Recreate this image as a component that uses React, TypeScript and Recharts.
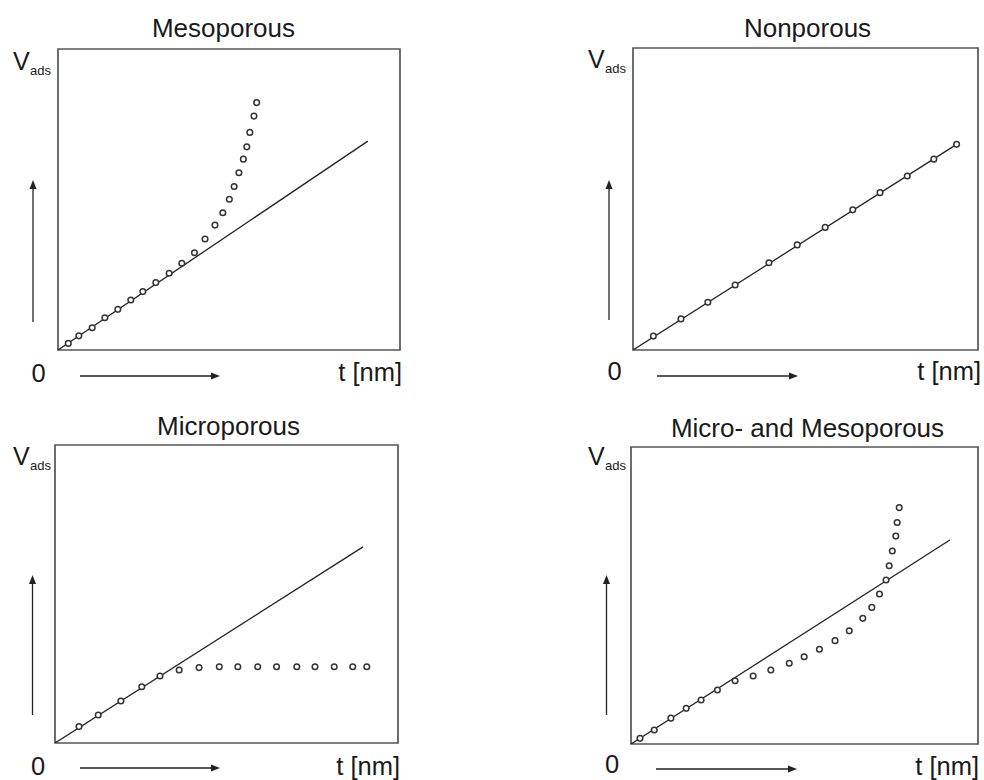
import React from "react";
import { ComposedChart, Line, Scatter, XAxis, YAxis, ReferenceArea } from "recharts";

// ---- data (normalised units 0..100 on both axes) ----
const mesoLine = [{ x: 0, y: 0 }, { x: 90.6, y: 69.4 }];
const mesoX = [3.0, 6.1, 10.0, 13.7, 17.5, 21.3, 24.8, 28.6, 32.5, 36.2, 39.9, 43.0, 45.9, 48.2, 50.1, 51.5, 52.9, 54.2, 55.2, 56.1, 57.3, 58.1];
const mesoY = [2.2, 4.7, 7.4, 10.7, 13.5, 16.6, 19.4, 22.4, 25.5, 28.8, 32.3, 36.9, 41.5, 45.6, 50.1, 54.3, 58.9, 63.4, 67.5, 72.3, 77.7, 82.2];

const nonLine = [{ x: 0, y: 0 }, { x: 93.8, y: 68.1 }];
const nonX = [5.9, 13.9, 21.7, 29.6, 39.4, 47.6, 55.7, 63.7, 71.6, 79.5, 87.2, 93.8];
const nonY = [4.6, 10.3, 15.8, 21.5, 28.9, 34.8, 40.6, 46.4, 52.1, 57.6, 63.2, 68.1];

const microLine = [{ x: 0, y: 0 }, { x: 89.8, y: 65.8 }];
const microX = [7.0, 12.6, 19.2, 25.3, 30.6, 36.2, 42.0, 47.9, 53.3, 59.1, 64.6, 70.5, 75.8, 81.4, 86.8, 90.9];
const microY = [5.5, 9.4, 14.1, 18.9, 22.5, 24.5, 25.3, 25.6, 25.6, 25.6, 25.6, 25.6, 25.6, 25.6, 25.6, 25.6];

const bothLine = [{ x: 0, y: 0 }, { x: 91.9, y: 68.7 }];
const bothX = [2.6, 6.7, 11.5, 15.9, 20.2, 24.9, 30.0, 35.2, 40.3, 45.6, 49.9, 54.3, 58.8, 62.9, 66.8, 69.4, 71.6, 73.5, 74.4, 75.3, 76.3, 76.7, 77.3];
const bothY = [1.9, 4.7, 8.7, 12.0, 14.8, 18.2, 21.3, 22.9, 24.9, 27.2, 29.4, 31.9, 34.8, 38.1, 42.3, 46.0, 50.5, 55.2, 60.0, 65.0, 70.0, 74.6, 79.6];

const titles = ["Mesoporous", "Nonporous", "Microporous", "Micro- and Mesoporous"];
const yLabel = "V";
const ySub = "ads";
const xLabel = "t [nm]";
const originLabel = "0";

const zip = (xs: number[], ys: number[]) => xs.map((x, i) => ({ x, y: ys[i] }));

type PanelCfg = {
  box: { left: number; top: number; width: number; height: number };
  title: string;
  titleX: number; titleY: number;
  vX: number; vY: number;
  arrowV: { x: number; y1: number; y2: number };
  zeroX: number; zeroY: number;
  arrowH: { x1: number; x2: number; y: number };
  tRight: number; tY: number;
  line: { x: number; y: number }[];
  pts: { x: number; y: number }[];
};

const panels: PanelCfg[] = [
  {
    box: { left: 58, top: 49, width: 342, height: 301 },
    title: titles[0], titleX: 223.5, titleY: 37,
    vX: 13, vY: 70,
    arrowV: { x: 33, y1: 322, y2: 180 },
    zeroX: 38.5, zeroY: 382,
    arrowH: { x1: 80, x2: 220, y: 376 },
    tRight: 402, tY: 381,
    line: mesoLine, pts: zip(mesoX, mesoY),
  },
  {
    box: { left: 633, top: 48, width: 345, height: 302 },
    title: titles[1], titleX: 807.5, titleY: 37,
    vX: 588, vY: 68,
    arrowV: { x: 609, y1: 320, y2: 180 },
    zeroX: 614.5, zeroY: 380,
    arrowH: { x1: 657, x2: 798, y: 376 },
    tRight: 981, tY: 380,
    line: nonLine, pts: zip(nonX, nonY),
  },
  {
    box: { left: 55, top: 445, width: 343, height: 298 },
    title: titles[2], titleX: 228.5, titleY: 435,
    vX: 13, vY: 465,
    arrowV: { x: 32.5, y1: 715, y2: 575 },
    zeroX: 38, zeroY: 775,
    arrowH: { x1: 80, x2: 220, y: 768 },
    tRight: 400, tY: 775,
    line: microLine, pts: zip(microX, microY),
  },
  {
    box: { left: 631, top: 447, width: 347, height: 297 },
    title: titles[3], titleX: 807.5, titleY: 437,
    vX: 588, vY: 465,
    arrowV: { x: 606.5, y1: 715, y2: 575 },
    zeroX: 612, zeroY: 773,
    arrowH: { x1: 656, x2: 797, y: 769 },
    tRight: 979, tY: 775,
    line: bothLine, pts: zip(bothX, bothY),
  },
];

const FONT = "'Liberation Sans', Arial, sans-serif";
const TEXT = "#1a1a1a";

const Marker = (p: any) => {
  if (p.cx == null || p.cy == null) return null;
  return <circle cx={p.cx} cy={p.cy} r={2.8} fill="#ffffff" stroke="#333" strokeWidth={1.5} />;
};

const PAD = 10;

function Panel({ cfg }: { cfg: PanelCfg }) {
  const { box } = cfg;
  return (
    <div style={{ position: "absolute", left: box.left - PAD, top: box.top - PAD }}>
      <ComposedChart
        width={box.width + PAD * 2}
        height={box.height + PAD * 2}
        margin={{ top: PAD, right: PAD, bottom: PAD, left: PAD }}
      >
        <XAxis type="number" dataKey="x" domain={[0, 100]} hide allowDataOverflow />
        <YAxis type="number" dataKey="y" domain={[0, 100]} hide allowDataOverflow />
        <ReferenceArea x1={0} x2={100} y1={0} y2={100} fill="none" stroke="#555" strokeWidth={1.7} ifOverflow="visible" />
        <Line data={cfg.line} dataKey="y" stroke="#222" strokeWidth={1.3} dot={false} isAnimationActive={false} />
        <Scatter data={cfg.pts} dataKey="y" shape={Marker} isAnimationActive={false} />
      </ComposedChart>
    </div>
  );
}

function Labels({ cfg }: { cfg: PanelCfg }) {
  const av = cfg.arrowV;
  const ah = cfg.arrowH;
  return (
    <g fontFamily={FONT} fill={TEXT}>
      <text x={cfg.titleX} y={cfg.titleY} fontSize={26} textAnchor="middle">{cfg.title}</text>
      <text x={cfg.vX} y={cfg.vY} fontSize={25}>{yLabel}</text>
      <text x={cfg.vX + 17} y={cfg.vY + 5} fontSize={13}>{ySub}</text>
      <line x1={av.x} y1={av.y1} x2={av.x} y2={av.y2 + 8} stroke="#222" strokeWidth={1.3} />
      <polygon points={`${av.x},${av.y2} ${av.x - 3.5},${av.y2 + 9} ${av.x + 3.5},${av.y2 + 9}`} fill="#222" />
      <text x={cfg.zeroX} y={cfg.zeroY} fontSize={25.5} textAnchor="middle">{originLabel}</text>
      <line x1={ah.x1} y1={ah.y} x2={ah.x2 - 8} y2={ah.y} stroke="#222" strokeWidth={1.3} />
      <polygon points={`${ah.x2},${ah.y} ${ah.x2 - 9},${ah.y - 3.5} ${ah.x2 - 9},${ah.y + 3.5}`} fill="#222" />
      <text x={cfg.tRight} y={cfg.tY} fontSize={25.5} textAnchor="end">{xLabel}</text>
    </g>
  );
}

export default function App() {
  return (
    <div style={{ position: "absolute", left: 0, top: 0, width: 984, height: 780, background: "#fff", overflow: "hidden" }}>
      {panels.map((p, i) => (
        <Panel key={i} cfg={p} />
      ))}
      <svg width={984} height={780} style={{ position: "absolute", left: 0, top: 0, pointerEvents: "none" }}>
        {panels.map((p, i) => (
          <Labels key={i} cfg={p} />
        ))}
      </svg>
    </div>
  );
}
